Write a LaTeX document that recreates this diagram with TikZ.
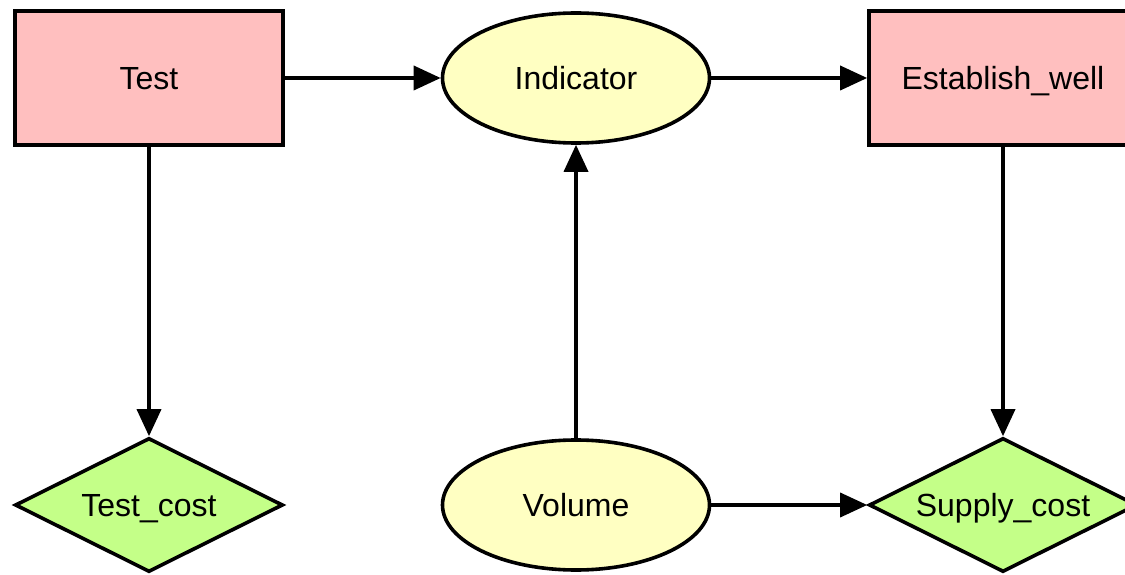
\documentclass[tikz,border=0pt]{standalone}
\usepackage{fontspec}
\setmainfont{Liberation Sans}
\usetikzlibrary{shapes.geometric,arrows.meta}
\definecolor{decisionpink}{RGB}{255,191,191}
\definecolor{chanceyellow}{RGB}{255,255,194}
\definecolor{valuegreen}{RGB}{196,255,136}
\tikzset{
  every node/.style={font=\fontsize{16}{19}\selectfont, line width=1.8pt, draw=black,
    inner sep=0pt, text height=11.5pt, text depth=0pt},
  decision/.style={rectangle, fill=decisionpink, minimum width=134pt, minimum height=67pt},
  chance/.style={ellipse, fill=chanceyellow, minimum width=133.5pt, minimum height=65pt},
  utility/.style={diamond, fill=valuegreen, minimum width=134pt, minimum height=67pt, shape aspect=2},
  link/.style={line width=1.8pt, -{Triangle[length=13.5pt,width=12pt]}}
}
\begin{document}
\begin{tikzpicture}[x=1pt,y=1pt]
  \useasboundingbox (0,0) rectangle (562.5,287);
  \clip (0,0) rectangle (562.5,287);
  % decision nodes
  \node[decision] (test) at (74.5,248) {Test};
  \node[decision] (well) at (501.5,248) {Establish\_well};
  % chance nodes
  \node[chance] (ind) at (288,248) {Indicator};
  \node[chance] (vol) at (288,34.5) {Volume};
  % value nodes
  \node[utility] (tcost) at (74.5,34.5) {Test\_cost};
  \node[utility] (scost) at (501.5,34.5) {Supply\_cost};
  % influences
  \draw[link] (test) -- (ind);
  \draw[link] (ind) -- (well);
  \draw[link] (vol) -- (ind);
  \draw[link] (vol) -- (scost);
  \draw[link] (test) -- (tcost);
  \draw[link] (well) -- (scost);
\end{tikzpicture}
\end{document}
